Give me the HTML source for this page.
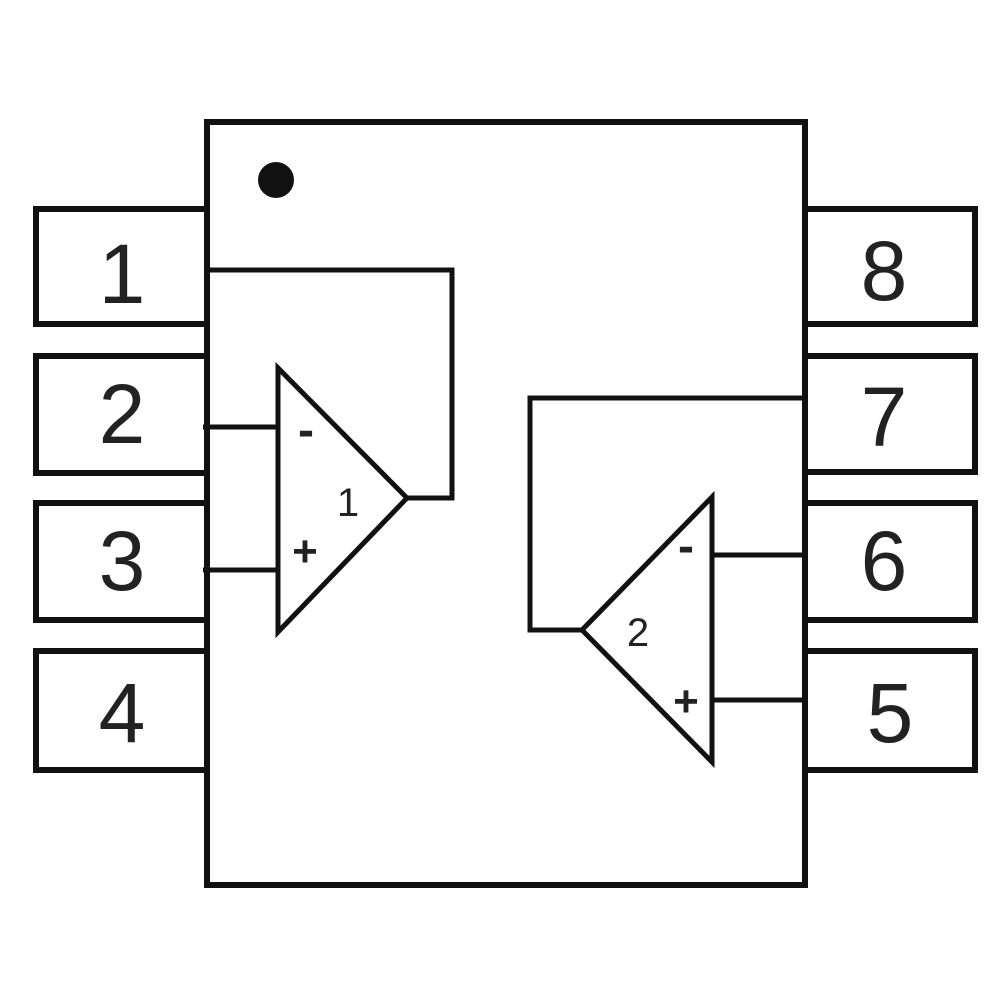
<!DOCTYPE html>
<html><head><style>body{margin:0;background:#fff}</style></head><body>
<svg width="1000" height="1000" viewBox="0 0 1000 1000" xmlns="http://www.w3.org/2000/svg">
<rect width="1000" height="1000" fill="#fff"/>
<g fill="#fff" stroke="#111" stroke-width="6">
<rect x="36" y="209" width="171" height="115"/>
<rect x="36" y="356" width="171" height="117"/>
<rect x="36" y="503" width="171" height="117"/>
<rect x="36" y="651" width="171" height="119"/>
<rect x="805" y="209" width="170" height="115"/>
<rect x="805" y="356" width="170" height="116"/>
<rect x="805" y="503" width="170" height="117"/>
<rect x="805" y="651" width="170" height="119"/>
<rect x="207" y="122" width="598" height="763"/>
</g>
<circle cx="276" cy="180" r="18" fill="#111"/>
<g fill="none" stroke="#111" stroke-width="5">
<polygon points="278,368 278,632 407,498"/>
<polyline points="207,270 452,270 452,498 407,498"/>
<line x1="203" y1="427" x2="278" y2="427"/>
<line x1="203" y1="570" x2="278" y2="570"/>
<polygon points="712,497 712,762 582,630"/>
<polyline points="803,398 530,398 530,630 582,630"/>
<line x1="712" y1="555" x2="803" y2="555"/>
<line x1="712" y1="700" x2="803" y2="700"/>
</g>
<g font-family="Liberation Sans, sans-serif" fill="#222" text-anchor="middle">
<g font-size="84">
<text x="122" y="303">1</text>
<text x="122" y="443">2</text>
<text x="122" y="590">3</text>
<text x="122" y="742">4</text>
<text x="884" y="300">8</text>
<text x="884" y="446">7</text>
<text x="884" y="590">6</text>
<text x="890" y="742">5</text>
</g>
<g font-size="40">
<text x="348" y="516">1</text>
<text x="638" y="646">2</text>
<text x="305" y="566" font-size="44" font-weight="bold">+</text>
<text x="686" y="716" font-size="44" font-weight="bold">+</text>
<text x="306" y="446" font-size="48" font-weight="bold">-</text>
<text x="686" y="562" font-size="48" font-weight="bold">-</text>
</g>
</g>
</svg>
</body></html>
